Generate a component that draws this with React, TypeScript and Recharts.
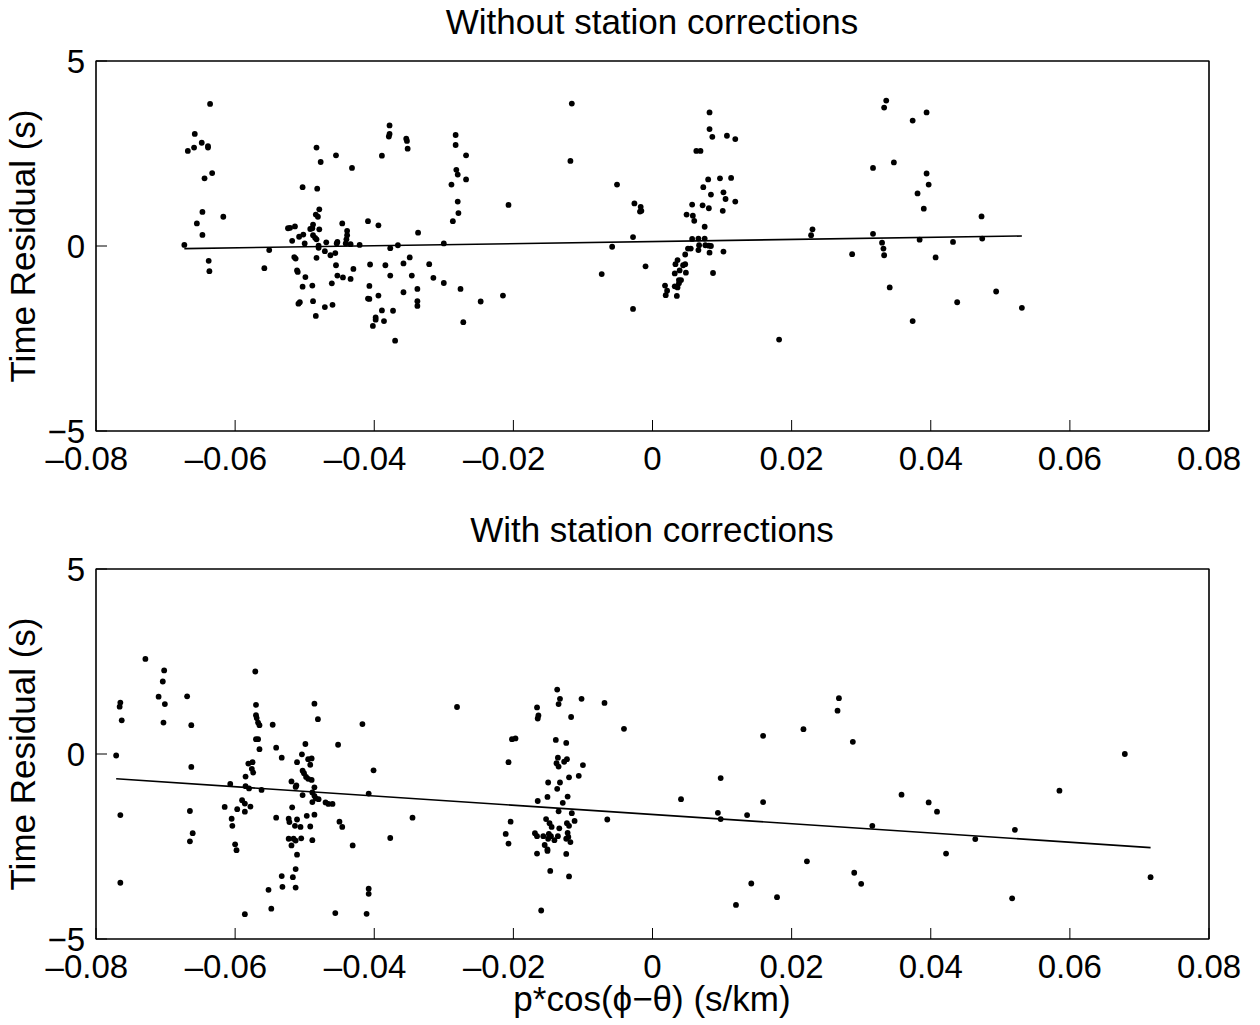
import { ScatterChart, Scatter, XAxis, YAxis, ReferenceLine, ReferenceArea } from 'recharts';

const FONT = '"Liberation Sans", Arial, Helvetica, sans-serif';

const xTicks = [-0.08, -0.06, -0.04, -0.02, 0, 0.02, 0.04, 0.06, 0.08];
const yTicks = [-5, 0, 5];
const panelTitles = ['Without station corrections', 'With station corrections'];
const yLabel = 'Time Residual (s)';
const xLabel = 'p*cos(\u03d5\u2212\u03b8) (s/km)';

// [slowness projection, residual]
const uncorrected: [number, number][] = [
  [-0.0673, 0.03], [-0.0636, 3.84], [-0.0668, 2.57], [-0.0658, 3.03], [-0.0659, 2.66], [-0.0648, 2.79], [-0.0639, 2.70], [-0.0639, 2.66],
  [-0.0644, 1.83], [-0.0633, 1.97], [-0.0647, 0.92], [-0.0655, 0.61], [-0.0647, 0.30], [-0.0617, 0.79], [-0.0638, -0.40], [-0.0637, -0.68],
  [-0.0551, -0.11], [-0.0558, -0.60], [-0.0524, 0.48], [-0.0521, 0.49], [-0.0514, 0.53], [-0.0518, 0.14], [-0.0508, 0.25], [-0.0502, 0.31],
  [-0.0500, 0.07], [-0.0503, 1.59], [-0.0483, 2.66], [-0.0477, 2.27], [-0.0482, 1.55], [-0.0479, 0.99], [-0.0484, 0.85], [-0.0481, 0.79],
  [-0.0488, 0.58], [-0.0492, 0.46], [-0.0489, 0.48], [-0.0479, 0.45], [-0.0488, 0.29], [-0.0485, 0.22], [-0.0483, 0.18], [-0.0480, 0.01],
  [-0.0480, -0.05], [-0.0469, 0.10], [-0.0471, -0.14], [-0.0463, -0.25], [-0.0456, -0.19], [-0.0483, -0.32], [-0.0515, -0.30], [-0.0513, -0.34],
  [-0.0511, -0.66], [-0.0510, -0.70], [-0.0499, -0.84], [-0.0503, -1.10], [-0.0489, -1.07], [-0.0509, -1.56], [-0.0507, -1.52], [-0.0488, -1.49],
  [-0.0484, -1.89], [-0.0471, -1.65], [-0.0460, -1.59], [-0.0461, -1.01], [-0.0455, -0.52], [-0.0453, -0.80], [-0.0445, -0.85], [-0.0434, -0.89],
  [-0.0430, -0.62], [-0.0455, 2.45], [-0.0432, 2.11], [-0.0446, 0.61], [-0.0439, 0.41], [-0.0439, 0.29], [-0.0440, 0.18], [-0.0441, 0.07],
  [-0.0454, 0.07], [-0.0453, 0.11], [-0.0434, 0.05], [-0.0421, 0.03], [-0.0409, 0.67], [-0.0394, 0.56], [-0.0406, -0.50], [-0.0407, -1.08],
  [-0.0409, -1.42], [-0.0407, -1.43], [-0.0394, -1.34], [-0.0389, -1.74], [-0.0398, -1.93], [-0.0398, -1.99], [-0.0402, -2.16], [-0.0386, -2.03],
  [-0.0373, -1.75], [-0.0370, -2.56], [-0.0384, -0.52], [-0.0377, -0.80], [-0.0377, -0.06], [-0.0366, 0.02], [-0.0389, 2.44], [-0.0378, 3.26],
  [-0.0378, 3.03], [-0.0379, 2.96], [-0.0354, 2.90], [-0.0353, 2.84], [-0.0352, 2.63], [-0.0337, 0.36], [-0.0349, -0.31], [-0.0358, -0.47],
  [-0.0346, -0.80], [-0.0358, -1.25], [-0.0338, -1.16], [-0.0338, -1.49], [-0.0338, -1.62], [-0.0321, -0.49], [-0.0315, -0.86], [-0.0300, -1.00],
  [-0.0300, 0.07], [-0.0283, 3.00], [-0.0283, 2.73], [-0.0268, 2.45], [-0.0282, 2.06], [-0.0280, 1.93], [-0.0268, 1.80], [-0.0289, 1.66],
  [-0.0280, 1.20], [-0.0279, 0.89], [-0.0287, 0.67], [-0.0276, -1.16], [-0.0272, -2.06],
  [-0.0247, -1.50], [-0.0215, -1.34], [-0.0207, 1.11], [-0.0116, 3.85], [-0.0118, 2.30], [-0.0073, -0.76], [-0.0058, -0.02], [-0.0051, 1.66],
  [-0.0028, 0.24], [-0.0026, 1.15], [-0.0017, 1.06], [-0.0018, 0.93], [-0.0016, 0.95], [-0.0010, -0.55], [-0.0028, -1.70], [0.0018, -1.07],
  [0.0021, -1.21], [0.0019, -1.33], [0.0035, -1.35], [0.0032, -1.09], [0.0036, -1.12], [0.0038, -1.01], [0.0041, -0.92], [0.0038, -0.92],
  [0.0032, -0.74], [0.0039, -0.66], [0.0048, -0.72], [0.0033, -0.49], [0.0036, -0.38], [0.0044, -0.52], [0.0047, -0.49], [0.0047, -0.23],
  [0.0051, -0.07], [0.0055, -0.07], [0.0057, 0.19], [0.0066, 0.20], [0.0075, 0.20], [0.0066, -0.11], [0.0067, 0.02], [0.0076, 0.02],
  [0.0081, 0.01], [0.0084, 0.00], [0.0082, -0.18], [0.0102, -0.15], [0.0087, -0.73], [0.0075, 0.52], [0.0049, 0.85], [0.0058, 0.82],
  [0.0060, 0.68], [0.0057, 1.12], [0.0072, 1.10], [0.0081, 1.02], [0.0073, 1.59], [0.0080, 1.80], [0.0084, 1.39], [0.0097, 1.83],
  [0.0113, 1.84], [0.0102, 1.45], [0.0105, 1.27], [0.0101, 0.95], [0.0119, 1.20], [0.0063, 2.57], [0.0069, 2.57], [0.0082, 3.61],
  [0.0082, 3.16], [0.0086, 2.95], [0.0107, 2.98], [0.0119, 2.89], [0.0182, -2.53], [0.0228, 0.29], [0.0230, 0.45],
  [0.0287, -0.22], [0.0317, 0.33], [0.0317, 2.11], [0.0336, 3.93], [0.0333, 3.74], [0.0347, 2.26], [0.0330, 0.09], [0.0332, -0.07],
  [0.0333, -0.25], [0.0341, -1.12], [0.0374, 3.39], [0.0394, 3.61], [0.0394, 1.96], [0.0397, 1.66], [0.0381, 1.42], [0.0390, 1.01],
  [0.0384, 0.17], [0.0374, -2.03], [0.0407, -0.31], [0.0432, 0.11], [0.0438, -1.52], [0.0473, 0.80], [0.0474, 0.20], [0.0494, -1.23],
  [0.0531, -1.67],
];

// lower panel, after station corrections
const corrected: [number, number][] = [
  [-0.0771, -0.04], [-0.0765, 1.39], [-0.0766, 1.28], [-0.0763, 0.91], [-0.0765, -1.65], [-0.0765, -3.48], [-0.0729, 2.57], [-0.0702, 2.26],
  [-0.0704, 1.96], [-0.0710, 1.55], [-0.0701, 1.35], [-0.0703, 0.85], [-0.0669, 1.56], [-0.0663, 0.78], [-0.0663, -0.35], [-0.0665, -1.54],
  [-0.0661, -2.14], [-0.0665, -2.36], [-0.0607, -0.81], [-0.0615, -1.43], [-0.0597, -1.49], [-0.0605, -1.75], [-0.0604, -1.94], [-0.0600, -2.44],
  [-0.0598, -2.60], [-0.0585, -0.61], [-0.0585, -0.87], [-0.0580, -0.93], [-0.0590, -1.25], [-0.0586, -1.34], [-0.0586, -1.56], [-0.0578, -1.42],
  [-0.0581, -0.26], [-0.0575, -0.22], [-0.0576, -0.40], [-0.0574, -0.50], [-0.0571, 2.23], [-0.0570, 1.33], [-0.0570, 1.05], [-0.0569, 0.97],
  [-0.0567, 0.85], [-0.0565, 0.78], [-0.0570, 0.40], [-0.0567, 0.40], [-0.0565, 0.13], [-0.0562, -0.97], [-0.0546, 0.79], [-0.0541, 0.17],
  [-0.0533, -0.10], [-0.0541, -1.72], [-0.0586, -4.33], [-0.0552, -3.67], [-0.0548, -4.18], [-0.0533, -3.30], [-0.0532, -3.59], [-0.0517, -3.33],
  [-0.0513, -3.11], [-0.0513, -3.61], [-0.0511, -2.72], [-0.0523, -2.29], [-0.0519, -2.47], [-0.0516, -2.29], [-0.0513, -2.34], [-0.0505, -2.28],
  [-0.0489, -2.33], [-0.0523, -1.75], [-0.0522, -1.84], [-0.0514, -1.94], [-0.0506, -1.97], [-0.0511, -1.77], [-0.0518, -1.44], [-0.0492, -1.96],
  [-0.0497, -1.67], [-0.0486, -1.64], [-0.0519, -0.74], [-0.0512, -0.85], [-0.0513, -0.89], [-0.0503, -1.11], [-0.0511, -0.22], [-0.0504, -0.01],
  [-0.0499, 0.27], [-0.0495, -0.14], [-0.0490, -0.12], [-0.0492, -0.29], [-0.0503, -0.45], [-0.0501, -0.52], [-0.0498, -0.62], [-0.0495, -0.67],
  [-0.0490, -0.70], [-0.0486, -0.90], [-0.0489, -1.04], [-0.0486, -1.13], [-0.0484, -1.20], [-0.0489, -1.30], [-0.0480, -1.22], [-0.0486, 1.36],
  [-0.0481, 0.94], [-0.0470, -1.31], [-0.0466, -1.35], [-0.0460, -1.35], [-0.0452, 0.25], [-0.0450, -1.83], [-0.0446, -1.97], [-0.0456, -4.30],
  [-0.0431, -2.47], [-0.0417, 0.81], [-0.0408, -1.07], [-0.0401, -0.44], [-0.0408, -3.64], [-0.0408, -3.78], [-0.0411, -4.32], [-0.0377, -2.27],
  [-0.0345, -1.72], [-0.0281, 1.27],
  [-0.0211, -2.16], [-0.0207, -2.42], [-0.0204, -1.83], [-0.0207, -0.22], [-0.0202, 0.40], [-0.0197, 0.42], [-0.0166, 1.26], [-0.0164, 1.04],
  [-0.0165, 0.96], [-0.0165, -1.27], [-0.0166, -2.69], [-0.0160, -4.23], [-0.0137, 1.74], [-0.0133, 1.49], [-0.0135, 1.35], [-0.0117, 1.00],
  [-0.0102, 1.49], [-0.0069, 1.38], [-0.0041, 0.68], [-0.0139, 0.38], [-0.0124, 0.30], [-0.0136, -0.10], [-0.0123, -0.14], [-0.0138, -0.25],
  [-0.0135, -0.34], [-0.0127, -0.21], [-0.0100, -0.30], [-0.0106, -0.59], [-0.0120, -0.63], [-0.0150, -0.77], [-0.0133, -0.77], [-0.0137, -0.94],
  [-0.0151, -1.16], [-0.0122, -1.15], [-0.0129, -1.32], [-0.0135, -1.55], [-0.0116, -1.60], [-0.0153, -1.76], [-0.0148, -1.87], [-0.0145, -1.97],
  [-0.0123, -1.87], [-0.0120, -1.94], [-0.0112, -1.81], [-0.0134, -2.01], [-0.0169, -2.14], [-0.0166, -2.22], [-0.0157, -2.22], [-0.0149, -2.16],
  [-0.0146, -2.22], [-0.0136, -2.22], [-0.0122, -2.13], [-0.0121, -2.24], [-0.0150, -2.29], [-0.0141, -2.33], [-0.0124, -2.29], [-0.0118, -2.38],
  [-0.0155, -2.46], [-0.0151, -2.58], [-0.0151, -2.62], [-0.0124, -2.70], [-0.0147, -3.16], [-0.0120, -3.31], [-0.0065, -1.77], [0.0041, -1.22],
  [0.0098, -0.65], [0.0094, -1.59], [0.0098, -1.76], [0.0136, -1.65], [0.0159, 0.49], [0.0159, -1.30], [0.0120, -4.08], [0.0142, -3.50],
  [0.0179, -3.87], [0.0217, 0.67], [0.0222, -2.90], [0.0266, 1.17], [0.0268, 1.51],
  [0.0288, 0.33], [0.0290, -3.21], [0.0300, -3.51], [0.0316, -1.94], [0.0358, -1.10], [0.0397, -1.31], [0.0409, -1.56], [0.0422, -2.69],
  [0.0464, -2.30], [0.0521, -2.05], [0.0517, -3.90], [0.0585, -0.99], [0.0679, 0.00], [0.0716, -3.33],
];

// end points of the fitted lines
const uncorrectedFit: [number, number][] = [[-0.0673, -0.07], [0.0531, 0.27]];
const correctedFit: [number, number][] = [[-0.0771, -0.67], [0.0716, -2.53]];

const W = 1260;
const H = 508;
const TICK_FONT = 33;
const LABEL_FONT = 35;

const fmtY = (v: number) => String(v).replace('-', '\u2212');

// matlab style: digits centred on the tick, the minus sign hangs to the left
function XTick(props: any) {
  const { x, y, payload } = props;
  const v: number = payload.value;
  const digits = Math.abs(v) < 1e-9 ? '0' : Math.abs(v).toFixed(2);
  const half = digits.length > 1 ? TICK_FONT * 0.973 : 0;
  return (
    <g fontFamily={FONT} fontSize={TICK_FONT} fill="#000">
      <text x={x} y={y} dy="0.71em" textAnchor="middle">{digits}</text>
      {v < -1e-9 && <text x={x - half} y={y} dy="0.71em" textAnchor="end">{'\u2013'}</text>}
    </g>
  );
}

const dot = (p: any) => <circle cx={p.cx} cy={p.cy} r={2.9} fill="#000" />;

function Panel({ points, fit }: { points: [number, number][]; fit: [number, number][] }) {
  const data = points.map(([x, y]) => ({ x, y }));
  return (
    <ScatterChart width={W} height={H} margin={{ top: 60, right: 50, bottom: 37, left: 36 }}>
      <XAxis
        xAxisId="b" dataKey="x" type="number" domain={[-0.08, 0.08]} ticks={xTicks} interval={0}
        tickSize={-11} tickMargin={27} height={40} stroke="#000" tick={<XTick />} allowDataOverflow
      />
      <XAxis
        xAxisId="t" orientation="top" type="number" domain={[-0.08, 0.08]} ticks={xTicks} interval={0}
        tickSize={-11} tick={false} height={1} stroke="#000" allowDataOverflow
      />
      <YAxis
        yAxisId="l" dataKey="y" type="number" domain={[-5, 5]} ticks={yTicks} interval={0}
        tickFormatter={fmtY} tickSize={-11} tickMargin={22} width={60} stroke="#000"
        tick={{ fill: '#000', fontSize: TICK_FONT, fontFamily: FONT }} allowDataOverflow
      />
      <YAxis
        yAxisId="r" orientation="right" type="number" domain={[-5, 5]} ticks={yTicks} interval={0}
        tickSize={-11} tick={false} width={1} stroke="#000" allowDataOverflow
      />
      <ReferenceArea
        xAxisId="b" yAxisId="l" x1={-0.08} x2={0.08} y1={-5} y2={5}
        fill="none" fillOpacity={0} stroke="#000" strokeWidth={1.2} ifOverflow="visible"
      />
      <Scatter data={data} xAxisId="b" yAxisId="l" fill="#000" shape={dot} isAnimationActive={false} />
      <ReferenceLine
        xAxisId="b" yAxisId="l" stroke="#000" strokeWidth={1.6} ifOverflow="visible"
        segment={fit.map(([x, y]) => ({ x, y }))}
      />
    </ScatterChart>
  );
}

export default function App() {
  return (
    <div style={{ position: 'absolute', left: 0, top: 0, width: W, height: 1025, background: '#fff' }}>
      <div style={{ position: 'absolute', left: 0, top: 0 }}>
        <Panel points={uncorrected} fit={uncorrectedFit} />
      </div>
      <div style={{ position: 'absolute', left: 0, top: H }}>
        <Panel points={corrected} fit={correctedFit} />
      </div>
      <svg width={W} height={1025} style={{ position: 'absolute', left: 0, top: 0, pointerEvents: 'none' }}>
        <g fontFamily={FONT} fontSize={LABEL_FONT} fill="#000">
          <text x={652} y={34} textAnchor="middle">{panelTitles[0]}</text>
          <text x={652} y={34 + H} textAnchor="middle">{panelTitles[1]}</text>
          <text x={35} y={246} textAnchor="middle" transform="rotate(-90 35 246)">{yLabel}</text>
          <text x={35} y={246 + H} textAnchor="middle" transform={`rotate(-90 35 ${246 + H})`}>{yLabel}</text>
          <text x={652} y={1011} textAnchor="middle">{xLabel}</text>
        </g>
      </svg>
    </div>
  );
}
